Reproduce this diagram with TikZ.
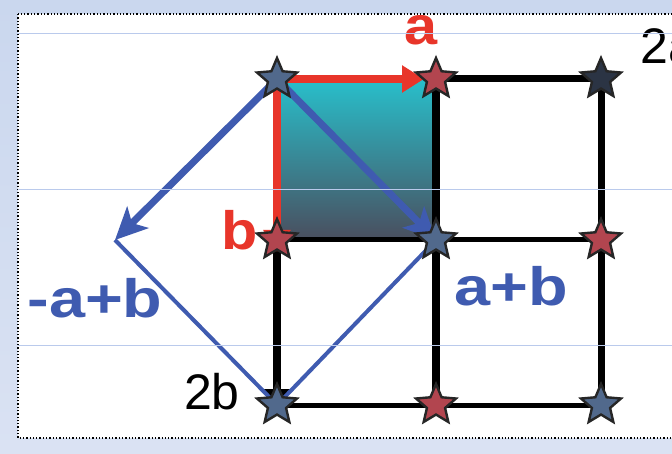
\documentclass[tikz,border=0pt]{standalone}
\usepackage{fontspec}
\setmainfont{Liberation Sans}
\usetikzlibrary{shapes.geometric,arrows.meta}
\definecolor{bgtop}{HTML}{CAD7EE}
\definecolor{bgbot}{HTML}{DAE2F3}
\definecolor{guide}{HTML}{BACAEC}
\definecolor{starred}{HTML}{B2454F}
\definecolor{starblue}{HTML}{51698C}
\definecolor{stardark}{HTML}{2B3444}
\definecolor{vred}{HTML}{E8352A}
\definecolor{vblue}{HTML}{3F5BB0}
\definecolor{sqtop}{HTML}{28BFCB}
\definecolor{sqbot}{HTML}{4A4E5E}
\tikzset{
  pt/.style={star, star points=5, star point ratio=2.2, minimum size=42pt, inner sep=0pt, draw=black!85, line width=2.4pt},
  gridline/.style={line width=#1, black},
  redvec/.style={vred, line width=8pt, -{Triangle[length=22pt,width=26pt]}},
  bluevec/.style={vblue, line width=7pt, -{Stealth[length=32pt,width=30pt,inset=8pt]}},
  bluethin/.style={vblue, line width=4pt},
  lbl/.style={font=\fontsize{54}{54}\selectfont\bfseries, inner sep=0pt},
  blk/.style={font=\fontsize{50}{50}\selectfont, inner sep=0pt}
}
\begin{document}
\begin{tikzpicture}[x=1pt,y=-1pt]
\useasboundingbox (0,0) rectangle (672,454);
\clip (0,0) rectangle (672,454);
\shade[top color=bgtop, bottom color=bgbot] (0,0) rectangle (672,454);
\fill[white] (18,14) rectangle (690,438);
\draw[black, line width=1.3pt, dotted] (18,14) rectangle (690,438);
% square
\shade[top color=sqtop, bottom color=sqbot] (277,79) rectangle (436,240);
% coordinates for grid points
\coordinate (p11) at (277,79);
\coordinate (p12) at (436,79);
\coordinate (p13) at (601,79);
\coordinate (p21) at (277,240);
\coordinate (p22) at (436,240);
\coordinate (p23) at (601,240);
\coordinate (p31) at (277,405);
\coordinate (p32) at (436,405);
\coordinate (p33) at (601,405);
\coordinate (m) at (115,240);
% black grid
\draw[gridline=7pt] (p12) -- (p13);
\draw[gridline=7pt] (p13) -- (p33);
\draw[gridline=8pt] (p12) -- (p32);
\draw[gridline=5pt] (p21) -- (p23);
\draw[gridline=5pt] (p31) -- (p33);
\draw[gridline=8pt, -{Triangle[length=22pt,width=26pt]}] (p21) -- ([yshift=-6pt]p31);
% red vectors
\draw[redvec] (p11) -- ([xshift=-12pt]p12);
\draw[redvec] (p11) -- ([yshift=-12pt]p21);
% blue vectors
\draw[bluethin] (m) -- (p31) -- (p22);
\draw[bluevec] (p11) -- (p22);
\draw[bluevec] (p11) -- (m);
% stars
\node[pt, fill=starblue] (s11) at (p11) {};
\node[pt, fill=starred] (s12) at (p12) {};
\node[pt, fill=stardark] (s13) at (p13) {};
\node[pt, fill=starred] (s21) at (p21) {};
\node[pt, fill=starblue] (s22) at (p22) {};
\node[pt, fill=starred] (s23) at (p23) {};
\node[pt, fill=starblue] (s31) at (p31) {};
\node[pt, fill=starred] (s32) at (p32) {};
\node[pt, fill=starblue] (s33) at (p33) {};
% labels
\node[lbl, text=vred] (la) at (421,30) {\scalebox{1.1}[1]{a}};
\node[lbl, text=vred] (lb) at (240,230) {\scalebox{1.1}[1]{b}};
\node[lbl, text=vblue] (lmab) at (95,298) {\scalebox{1.2}[1]{-a+b}};
\node[lbl, text=vblue] (lapb) at (511,286) {\scalebox{1.2}[1]{a+b}};
\node[blk, anchor=west] (l2a) at (640,46) {2a};
\node[blk] (l2b) at (212,392) {2b};
% guide lines
\foreach \yy in {33,189,345} \draw[guide, line width=0.8pt] (18,\yy) -- (672,\yy);
\end{tikzpicture}
\end{document}
